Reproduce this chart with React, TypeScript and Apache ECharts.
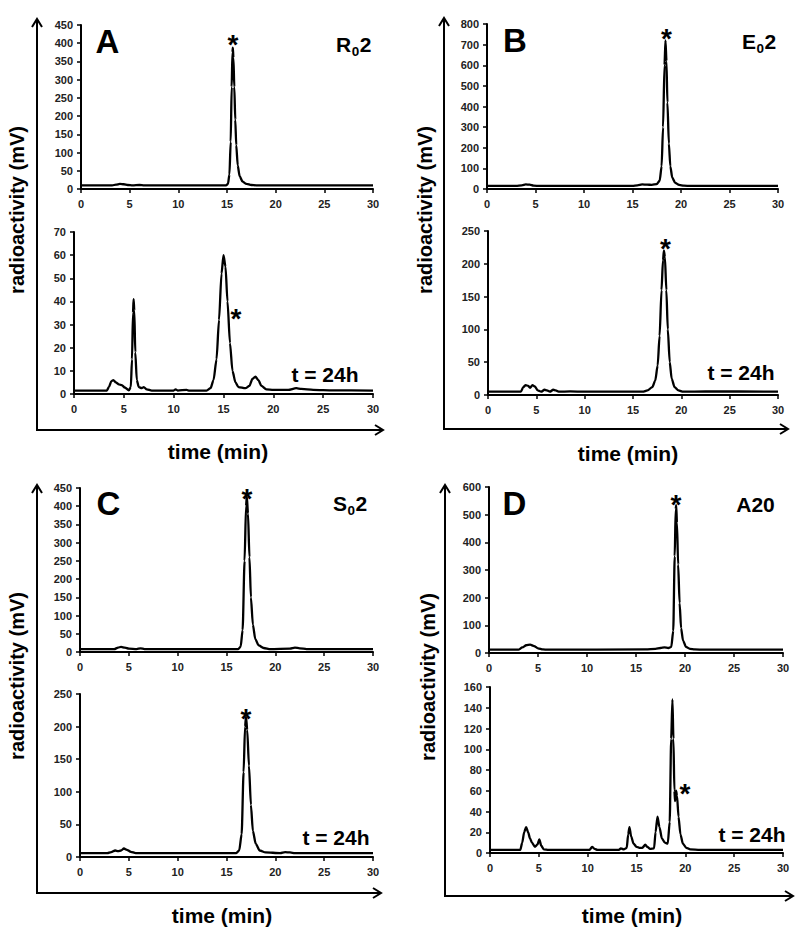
import React, { useEffect, useRef } from 'react';
import * as echarts from 'echarts';

// ---------- DATA (time in min, radioactivity in mV) ----------
const xTickStep = 5;
const xMin = 0;
const xMax = 30;

const yMaxes = [450, 70, 800, 250, 450, 250, 600, 160];
const yIntervals = [50, 10, 100, 50, 50, 50, 100, 20];

const panelLetters = ['A', 'B', 'C', 'D'];
const timeLabel = 't = 24h';

// Panel A, R02, t = 0
const traceA0: [number, number][] = [
  [0, 10], [2, 10], [3.2, 10], [3.6, 12], [4.0, 14], [4.4, 13], [4.8, 11], [5.3, 10], [6, 11], [6.5, 10],
  [14.9, 10], [15.1, 14], [15.25, 40], [15.38, 130], [15.48, 280], [15.56, 375], [15.6, 388], [15.66, 360],
  [15.75, 280], [15.85, 190], [15.95, 120], [16.1, 65], [16.3, 35], [16.6, 20], [17, 14], [17.5, 11], [18, 10], [30, 10],
];
// Panel A, R02, t = 24h
const traceA24: [number, number][] = [
  [0, 1.5], [3.3, 1.5], [3.5, 3], [3.75, 5.5], [3.95, 6], [4.2, 5], [4.5, 4.2], [4.8, 3.8], [5.1, 2.8], [5.5, 1.6],
  [5.7, 3], [5.82, 15], [5.92, 35], [5.98, 41], [6.05, 36], [6.15, 18], [6.3, 6], [6.5, 3], [6.8, 2.5], [7.0, 3],
  [7.3, 2], [7.8, 1.5], [10, 1.5], [10.2, 2], [10.4, 1.5], [11.3, 1.8], [11.5, 1.5], [13.3, 1.5], [13.7, 2.5],
  [14.0, 6], [14.3, 15], [14.55, 32], [14.8, 52], [15.0, 60], [15.2, 55], [15.4, 40], [15.65, 22], [15.9, 10],
  [16.2, 5], [16.5, 3], [17.2, 2.5], [17.6, 3.5], [17.9, 6.5], [18.2, 7.5], [18.5, 6], [18.8, 3.5], [19.3, 2],
  [20, 1.8], [21.5, 1.8], [22.3, 2.5], [22.8, 2.2], [24, 1.8], [26, 1.6], [30, 1.5],
];
// Panel B, E02, t = 0
const traceB0: [number, number][] = [
  [0, 15], [3, 15], [3.6, 18], [4, 22], [4.4, 21], [4.8, 16], [5.5, 15], [15, 15], [15.5, 18], [16, 22],
  [16.5, 21], [17, 20], [17.5, 24], [17.8, 40], [18.0, 110], [18.15, 300], [18.3, 600], [18.4, 720],
  [18.5, 620], [18.6, 420], [18.75, 220], [18.9, 110], [19.1, 55], [19.4, 30], [19.8, 20], [20.3, 16], [21, 15], [30, 15],
];
// Panel B, E02, t = 24h
const traceB24: [number, number][] = [
  [0, 5], [3.4, 5], [3.65, 12], [3.9, 15], [4.15, 14], [4.35, 11], [4.6, 15], [4.85, 13], [5.15, 7], [5.5, 5],
  [5.85, 8], [6.1, 7], [6.4, 5], [6.75, 8], [7.0, 7], [7.3, 5], [8.5, 5.5], [10, 5], [16, 5], [16.5, 7], [17, 12],
  [17.3, 22], [17.55, 45], [17.75, 90], [17.95, 160], [18.1, 205], [18.2, 220], [18.3, 210], [18.45, 160],
  [18.6, 100], [18.8, 50], [19.0, 25], [19.3, 12], [19.7, 7], [20.2, 5], [22.5, 5.5], [30, 5],
];
// Panel C, S02, t = 0
const traceC0: [number, number][] = [
  [0, 8], [3.5, 8], [3.9, 12], [4.2, 14], [4.6, 12], [5.0, 9], [5.8, 8], [6.2, 10], [6.6, 8], [16.2, 8],
  [16.45, 15], [16.65, 60], [16.85, 250], [17.0, 400], [17.08, 427], [17.2, 380], [17.35, 260], [17.5, 150],
  [17.7, 75], [17.95, 35], [18.3, 18], [18.8, 11], [19.5, 8], [21.5, 9], [22, 12], [22.5, 10], [23.2, 8], [30, 8],
];
// Panel C, S02, t = 24h
const traceC24: [number, number][] = [
  [0, 6], [2.8, 6], [3.2, 7.5], [3.6, 10], [3.9, 9], [4.2, 10], [4.5, 13], [4.8, 11], [5.2, 8], [5.7, 6],
  [16.0, 6], [16.3, 10], [16.55, 35], [16.75, 130], [16.9, 200], [17.0, 215], [17.12, 195], [17.3, 140],
  [17.5, 80], [17.7, 40], [18.0, 20], [18.4, 10], [19, 7], [20.5, 6], [21, 7.5], [21.5, 7], [22, 6], [30, 6],
];
// Panel D, A20, t = 0
const traceD0: [number, number][] = [
  [0, 12], [3.0, 12], [3.4, 20], [3.8, 28], [4.2, 30], [4.6, 25], [5.0, 17], [5.5, 13], [6, 12], [16, 13],
  [17, 15], [17.5, 18], [17.9, 20], [18.3, 18], [18.6, 22], [18.8, 80], [18.95, 350], [19.05, 520], [19.1, 534],
  [19.18, 470], [19.3, 320], [19.45, 180], [19.6, 90], [19.8, 45], [20.1, 22], [20.5, 15], [21, 13], [22, 12], [30, 12],
];
// Panel D, A20, t = 24h
const traceD24: [number, number][] = [
  [0, 3], [3.1, 3], [3.3, 10], [3.5, 20], [3.7, 25], [3.9, 20], [4.1, 14], [4.3, 10], [4.6, 6], [4.85, 8],
  [5.05, 13], [5.25, 7], [5.5, 3.5], [6, 3], [10.2, 3], [10.45, 6], [10.7, 4], [11, 3], [13.2, 3], [13.4, 4.5],
  [13.7, 3.5], [14.0, 5], [14.15, 18], [14.28, 25], [14.45, 16], [14.7, 9], [15.0, 6], [15.3, 5], [15.6, 5],
  [15.9, 8], [16.1, 6], [16.4, 4], [16.8, 4.5], [16.95, 20], [17.15, 35], [17.35, 25], [17.6, 14], [17.9, 10],
  [18.2, 9], [18.4, 30], [18.55, 110], [18.68, 148], [18.78, 110], [18.88, 60], [18.95, 50], [19.05, 60],
  [19.15, 55], [19.3, 35], [19.5, 18], [19.75, 9], [20.1, 5], [20.5, 3.5], [21.5, 3], [30, 3],
];

// asterisk annotations (data coordinates of the marked product peak)
const starCoords: [number, number][] = [
  [15.6, 414], [16.25, 35.4], [18.5, 761], [18.35, 232], [17.1, 439], [17.0, 222], [19.08, 560], [19.97, 62.7],
];

const traces = [traceA0, traceA24, traceB0, traceB24, traceC0, traceC24, traceD0, traceD24];

// ---------- LAYOUT ----------
const FONT = '"Liberation Sans", Arial, Helvetica, sans-serif';
const grids = [
  { left: 81, top: 25, width: 292, height: 164 },
  { left: 74, top: 232, width: 299, height: 162 },
  { left: 487, top: 24, width: 291, height: 165 },
  { left: 488, top: 231, width: 290, height: 164 },
  { left: 80, top: 488, width: 293, height: 164 },
  { left: 80, top: 694, width: 293, height: 163 },
  { left: 489, top: 487, width: 294, height: 166 },
  { left: 490, top: 687, width: 293, height: 166 },
];

// outer L-shaped arrows: x of vertical, top tip y, y of horizontal, right tip x
const frames = [
  { x: 37, top: 19, y: 430, right: 383 },
  { x: 444, top: 18, y: 429, right: 788 },
  { x: 37, top: 485, y: 893, right: 381 },
  { x: 445, top: 485, y: 896, right: 793 },
];
const letterPos = [[107.5, 41], [515, 40], [108.5, 503.5], [514.5, 503.5]];
const yTitlePos = [[17, 210], [425, 210], [17, 676], [428, 677]];
const xTitlePos = [[218, 451], [628, 453], [222, 915], [632, 915]];
const tPos = [[325, 374], [741, 372], [336, 837], [752, 834]];

function txt(x: number, y: number, text: string, size: number, extra: any = {}) {
  return {
    type: 'text',
    x,
    y,
    silent: true,
    ...extra,
    style: {
      text,
      fontSize: size,
      fontWeight: 'bold',
      fontFamily: FONT,
      fill: '#000',
      align: 'center',
      verticalAlign: 'middle',
      ...(extra.style || {}),
    },
  };
}

function subLabel(x: number, y: number, main: string, sub: string, tail: string) {
  const fs = 21;
  const sfs = 13.5;
  const w1 = main === 'R' ? 0.722 * fs : 0.667 * fs;
  const w2 = 0.556 * sfs;
  return [
    txt(x, y, main, fs, { style: { align: 'left' } }),
    txt(x + w1 + 0.5, y + 7, sub, sfs, { style: { align: 'left' } }),
    txt(x + w1 + w2 + 1, y, tail, fs, { style: { align: 'left' } }),
  ];
}

export default function App() {
  const ref = useRef<HTMLDivElement>(null);
  useEffect(() => {
    if (!ref.current) return;
    const chart = echarts.init(ref.current, undefined, { renderer: 'svg' });

    const xAxis = grids.map((_, i) => ({
      type: 'value',
      gridIndex: i,
      min: xMin,
      max: xMax,
      interval: xTickStep,
      axisLine: { show: true, onZero: false, lineStyle: { color: '#000', width: 2 } },
      axisTick: { show: true, length: 4, lineStyle: { color: '#000', width: 1.5 } },
      axisLabel: { margin: 9, fontSize: 11, fontWeight: 'bold', color: '#222', fontFamily: FONT },
      splitLine: { show: false },
    }));
    const yAxis = grids.map((_, i) => ({
      type: 'value',
      gridIndex: i,
      min: 0,
      max: yMaxes[i],
      interval: yIntervals[i],
      axisLine: { show: true, lineStyle: { color: '#000', width: 2 } },
      axisTick: { show: true, length: 4, lineStyle: { color: '#000', width: 1.5 } },
      axisLabel: { margin: 8, fontSize: 11, fontWeight: 'bold', color: '#222', fontFamily: FONT },
      splitLine: { show: false },
    }));
    const series = traces.map((d, i) => ({
      type: 'line',
      xAxisIndex: i,
      yAxisIndex: i,
      data: d,
      symbol: 'none',
      showSymbol: false,
      smooth: 0.25,
      smoothMonotone: 'x',
      lineStyle: { color: '#000', width: 2.3 },
      silent: true,
      markPoint: {
        symbol: 'rect',
        symbolSize: 1,
        silent: true,
        itemStyle: { color: 'rgba(0,0,0,0)' },
        label: {
          show: true,
          position: 'inside',
          formatter: '*',
          fontSize: 28,
          fontWeight: 'bold',
          color: '#000',
          fontFamily: FONT,
          offset: [0, 6],
        },
        data: [{ coord: starCoords[i] }],
      },
    }));

    const graphic: any[] = [];
    frames.forEach((f) => {
      graphic.push({
        type: 'polyline',
        silent: true,
        shape: { points: [[f.x, f.top + 1], [f.x, f.y], [f.right - 1, f.y]] },
        style: { stroke: '#000', lineWidth: 2, fill: null },
      });
      graphic.push({
        type: 'polyline',
        silent: true,
        shape: { points: [[f.x - 5, f.top + 8], [f.x, f.top], [f.x + 5, f.top + 8]] },
        style: { stroke: '#000', lineWidth: 2, fill: null },
      });
      graphic.push({
        type: 'polyline',
        silent: true,
        shape: { points: [[f.right - 8, f.y - 5], [f.right, f.y], [f.right - 8, f.y + 5]] },
        style: { stroke: '#000', lineWidth: 2, fill: null },
      });
    });
    panelLetters.forEach((L, i) => {
      graphic.push(txt(letterPos[i][0], letterPos[i][1], L, 33));
      graphic.push(txt(yTitlePos[i][0], yTitlePos[i][1], 'radioactivity (mV)', 20, { rotation: Math.PI / 2 }));
      graphic.push(txt(xTitlePos[i][0], xTitlePos[i][1], 'time (min)', 21));
      graphic.push(txt(tPos[i][0], tPos[i][1], timeLabel, 21));
    });
    graphic.push(...subLabel(336, 44, 'R', '0', '2'));
    graphic.push(...subLabel(742, 41, 'E', '0', '2'));
    graphic.push(...subLabel(333, 503, 'S', '0', '2'));
    graphic.push(txt(755.5, 504, 'A20', 21));

    chart.setOption({
      animation: false,
      backgroundColor: '#fff',
      grid: grids.map((g) => ({ ...g, containLabel: false })),
      xAxis,
      yAxis,
      series,
      graphic,
    });
    return () => chart.dispose();
  }, []);
  return (
    <div
      ref={ref}
      style={{ position: 'fixed', left: 0, top: 0, width: 800, height: 939, background: '#fff' }}
    />
  );
}
